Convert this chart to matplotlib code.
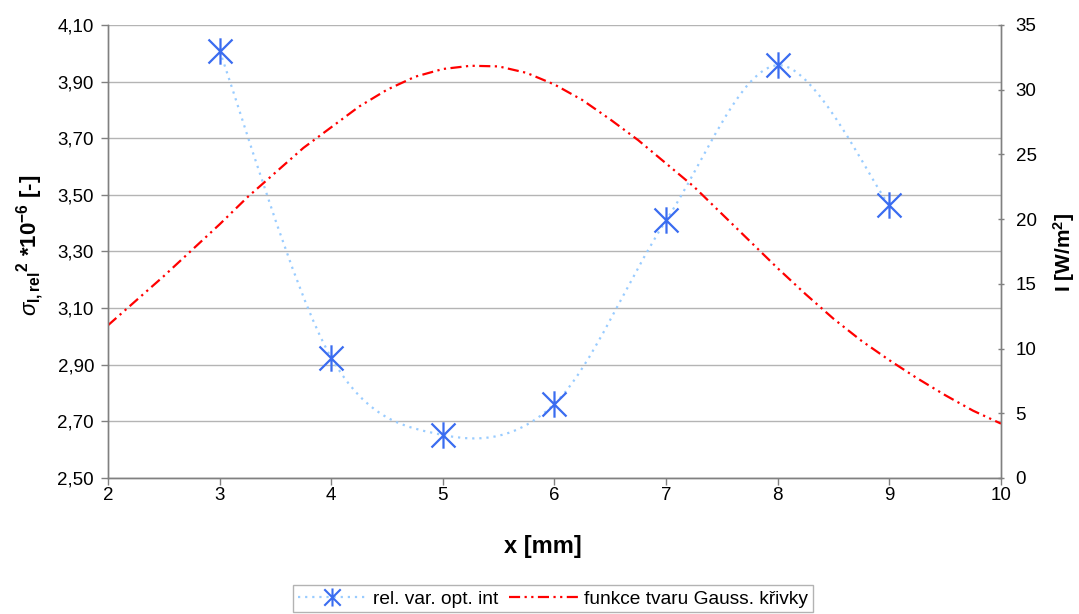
import numpy as np
import matplotlib.pyplot as plt
from matplotlib.path import Path
from matplotlib.patches import PathPatch
from matplotlib.lines import Line2D

plt.rcParams['font.family'] = ['Liberation Sans', 'DejaVu Sans']
plt.rcParams['mathtext.fontset'] = 'custom'
plt.rcParams['mathtext.rm'] = 'Liberation Sans:bold'
plt.rcParams['mathtext.it'] = 'Liberation Sans:italic'
plt.rcParams['mathtext.bf'] = 'Liberation Sans:bold'

# relative variance of optical intensity (left axis)
x_var = [3, 4, 5, 6, 7, 8, 9]
rel_var = [4.008, 2.925, 2.652, 2.762, 3.41, 3.958, 3.463]

# Gauss-shaped intensity profile (right axis)
x_gauss = [2.0, 2.25, 2.5, 2.75, 3.0, 3.25, 3.5, 3.75, 4.0, 4.25, 4.5, 4.75,
           5.0, 5.25, 5.5, 5.75, 6.0, 6.25, 6.5, 6.75, 7.0, 7.25, 7.5, 7.75,
           8.0, 8.25, 8.5, 8.75, 9.0, 9.25, 9.5, 9.75, 10.0]
intensity = [11.8, 13.7, 15.6, 17.6, 19.6, 21.7, 23.6, 25.5, 27.1, 28.7, 30.0, 31.0,
             31.6, 31.85, 31.8, 31.3, 30.4, 29.2, 27.7, 26.1, 24.3, 22.5, 20.4, 18.3,
             16.2, 14.2, 12.3, 10.6, 9.1, 7.7, 6.4, 5.2, 4.2]

left_ticks = [2.5, 2.7, 2.9, 3.1, 3.3, 3.5, 3.7, 3.9, 4.1]
right_ticks = [0, 5, 10, 15, 20, 25, 30, 35]
x_ticks = [2, 3, 4, 5, 6, 7, 8, 9, 10]

BLUE_LINE = '#99ccff'
BLUE_MARK = '#3a6cf0'
RED = '#ff0000'
GRID = '#b4b4b4'
SPINE = '#808080'


def smooth_path(xs, ys):
    # Excel-like smoothed line: cubic bezier through the points
    pts = np.column_stack([xs, ys]).astype(float)
    n = len(pts)
    verts = [pts[0]]
    codes = [Path.MOVETO]
    for i in range(n - 1):
        p0 = pts[i - 1] if i > 0 else pts[i]
        p1 = pts[i]
        p2 = pts[i + 1]
        p3 = pts[i + 2] if i + 2 < n else pts[i + 1]
        c1 = p1 + (p2 - p0) / 6.0
        c2 = p2 - (p3 - p1) / 6.0
        verts += [c1, c2, p2]
        codes += [Path.CURVE4] * 3
    return Path(verts, codes)


# asterisk marker: X with a vertical bar
star = Path([(-1, -1), (1, 1), (-1, 1), (1, -1), (0, -1.1), (0, 1.1)],
            [Path.MOVETO, Path.LINETO, Path.MOVETO, Path.LINETO, Path.MOVETO, Path.LINETO])

fig = plt.figure(figsize=(10.79, 6.14), dpi=100)
ax = fig.add_axes([0.1001, 0.2215, 0.8276, 0.7378])
ax2 = ax.twinx()

# blue dotted smooth line + markers
patch = PathPatch(smooth_path(x_var, rel_var), facecolor='none', edgecolor=BLUE_LINE,
                  lw=1.6, linestyle=(0, (1, 2.2)), zorder=2)
ax.add_patch(patch)
ax.plot(x_var, rel_var, linestyle='none', marker=star, markersize=19,
        markeredgewidth=1.6, markeredgecolor=BLUE_MARK, markerfacecolor='none', zorder=3)

ax2.plot(x_gauss, intensity, color=RED, lw=1.6,
         linestyle=(0, (5, 2, 1, 2, 1, 2)))

ax.set_xlim(2, 10)
ax.set_ylim(2.5, 4.1)
ax2.set_ylim(0, 35)
ax.set_xticks(x_ticks)
ax.set_xticklabels([str(v) for v in x_ticks])
ax.set_yticks(left_ticks)
ax.set_yticklabels([f'{v:.2f}'.replace('.', ',') for v in left_ticks])
ax2.set_yticks(right_ticks)

ax.grid(axis='y', color=GRID, lw=1.0)
ax.set_axisbelow(True)

for a in (ax, ax2):
    a.spines['top'].set_visible(False)
    for s in ('left', 'right', 'bottom'):
        a.spines[s].set_color(SPINE)
        a.spines[s].set_linewidth(1.0)
ax.tick_params(axis='both', colors=SPINE, labelcolor='black', labelsize=13.5, length=5, width=1)
ax.tick_params(axis='x', pad=1.5)
ax.tick_params(axis='y', pad=5)
ax2.tick_params(axis='y', colors=SPINE, labelcolor='black', labelsize=13.5, length=5, width=1,
                direction='inout', pad=8)

ax.set_xlabel('x [mm]', fontsize=17, fontweight='bold')
ax.set_ylabel(r'$\sigma$$_{\mathrm{I,rel}}$$^{\mathrm{2}}$ *10$^{\mathrm{-6}}$ [-]',
              fontsize=16, fontweight='bold')
ax2.set_ylabel(r'I [W/m$^{\mathrm{2}}$]', fontsize=15, fontweight='bold')
ax.xaxis.set_label_coords(0.487, -0.125)
ax.yaxis.set_label_coords(-0.069, 0.514)
ax2.yaxis.set_label_coords(1.056, 0.499)

h1 = Line2D([], [], color=BLUE_LINE, lw=1.6, linestyle=(0, (1, 2.2)), marker=star,
            markersize=13, markeredgewidth=1.5, markeredgecolor=BLUE_MARK, markerfacecolor='none')
h2 = Line2D([], [], color=RED, lw=1.6, linestyle=(0, (5, 2, 1, 2, 1, 2)))
leg = fig.legend([h1, h2], ['rel. var. opt. int', 'funkce tvaru Gauss. křivky'],
                 loc='center', bbox_to_anchor=(0.5125, 0.0245), ncol=2, fontsize=13.8,
                 frameon=True, fancybox=False, edgecolor='#a0a0a0', handlelength=3.6,
                 handletextpad=0.3, columnspacing=0.6, borderpad=0.25, markerscale=1.0)
leg.get_frame().set_linewidth(1.0)

fig.savefig('out.png', dpi=100)
